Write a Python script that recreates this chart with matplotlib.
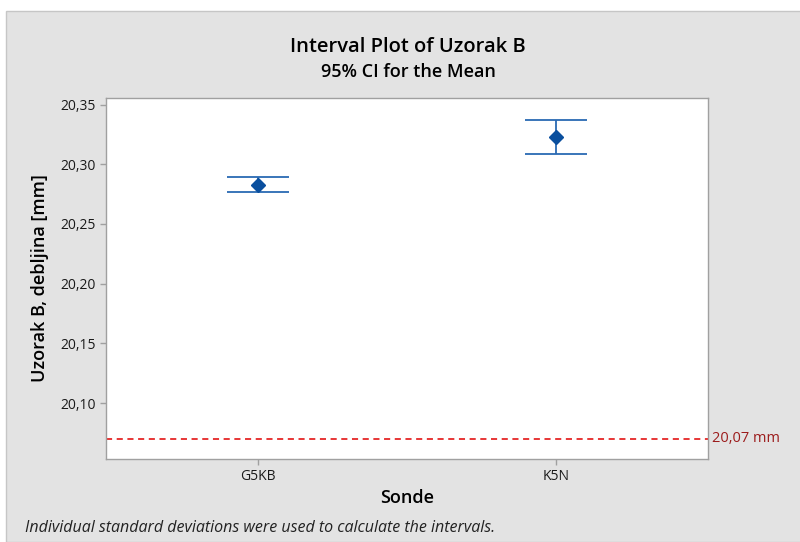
import matplotlib
matplotlib.use('Agg')
import matplotlib.pyplot as plt
from matplotlib.patches import Rectangle

# Interval data (mm)
groups = ['G5KB', 'K5N']
means = [20.2825, 20.3230]
lower = [20.2764, 20.3090]
upper = [20.2893, 20.3370]
reference = 20.07
yticks = [20.10, 20.15, 20.20, 20.25, 20.30, 20.35]

plt.rcParams['font.family'] = ['Open Sans', 'DejaVu Sans']

fig = plt.figure(figsize=(8.0, 5.42), dpi=100)
fig.patch.set_facecolor('white')

# grey panel behind the chart
panel = Rectangle((6 / 800, 0), 1.0, (542 - 11) / 542,
                  transform=fig.transFigure, facecolor='#e3e3e3',
                  edgecolor='#c6c6c6', linewidth=1.0, zorder=-5)
fig.add_artist(panel)

ax = fig.add_axes([106 / 800, 1 - 459 / 542, 602 / 800, 361 / 542])
ax.set_facecolor('white')

x = [1, 2]
err_lo = [m - l for m, l in zip(means, lower)]
err_hi = [u - m for m, u in zip(means, upper)]
ax.errorbar(x, means, yerr=[err_lo, err_hi], fmt='none', ecolor='#2a6ab3',
            elinewidth=1.3, capsize=22, capthick=1.3, zorder=2)
ax.plot(x, means, linestyle='none', marker='D', markersize=7.5,
        color='#0a4f9e', zorder=3)

ax.axhline(reference, color='#e00000', linestyle=(0, (4, 3)), linewidth=1.1)
ax.text(2.525, reference, f'{reference:.2f} mm'.replace('.', ','),
        color='#9c1c1c', fontsize=10.5, va='center', ha='left', clip_on=False)

ax.set_xlim(0.49, 2.51)
ax.set_ylim(20.0532, 20.3555)
ax.set_xticks(x)
ax.set_xticklabels(groups, fontsize=10)
ax.set_yticks(yticks)
ax.set_yticklabels([f'{t:.2f}'.replace('.', ',') for t in yticks], fontsize=10)

for s in ax.spines.values():
    s.set_color('#a0a0a0')
    s.set_linewidth(1.0)
ax.tick_params(colors='#a0a0a0', labelcolor='#1a1a1a', length=4, width=1.0)

ax.set_xlabel('Sonde', fontsize=13, fontweight='semibold', labelpad=3)
ax.set_ylabel('Uzorak B, debljina [mm]', fontsize=13, fontweight='semibold',
              labelpad=8)

fig.text(408 / 800, 1 - 47 / 542, 'Interval Plot of Uzorak B', fontsize=14.5,
         fontweight='semibold', ha='center', va='center')
fig.text(408 / 800, 1 - 72 / 542, '95% CI for the Mean', fontsize=13,
         fontweight='semibold', ha='center', va='center')
fig.text(25 / 800, 1 - 528 / 542,
         'Individual standard deviations were used to calculate the intervals.',
         fontsize=11.5, style='italic', ha='left', va='center', color='#222222')

fig.savefig('out.png', dpi=100)
